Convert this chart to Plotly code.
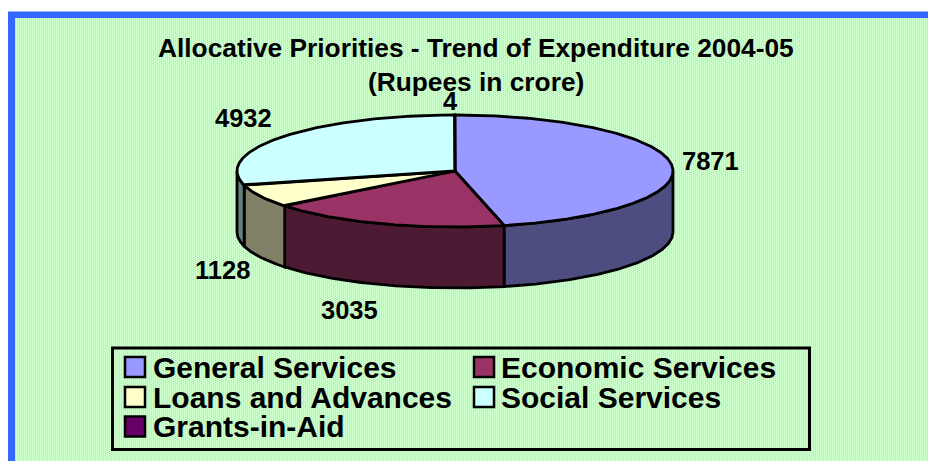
import base64
import struct
import zlib

import numpy as np
import plotly.graph_objects as go

categories = ["General Services", "Economic Services", "Loans and Advances", "Social Services", "Grants-in-Aid"]
values = [7871, 3035, 1128, 4932, 4]
top_colors = ["#9999FF", "#993366", "#FFFFCC", "#CCFFFF", "#660066"]
side_colors = ["#4D4D80", "#4D1A33", "#808066", "#668080", "#330033"]
label_texts = ["7871", "3035", "1128", "4932", "4"]
title_lines = ["Allocative Priorities - Trend of Expenditure 2004-05", "(Rupees in crore)"]

W, H = 928, 461
CX, CY, RX, RY, DEPTH = 455, 171, 218, 56, 61
OUTLINE = dict(color="#000000", width=2.8)
FONT = "Liberation Sans"


def texture_png(width, height):
    """Dithered green paper texture, as a PNG data URI."""
    img = np.empty((height, width, 3), dtype=np.uint8)
    img[:] = (204, 255, 204)
    img[::2, ::4] = (168, 224, 210)
    img[1::2, 2::4] = (168, 224, 210)
    raw = b"".join(b"\x00" + row.tobytes() for row in img)

    def chunk(tag, data):
        return struct.pack(">I", len(data)) + tag + data + struct.pack(">I", zlib.crc32(tag + data))

    png = (b"\x89PNG\r\n\x1a\n" + chunk(b"IHDR", struct.pack(">IIBBBBB", width, height, 8, 2, 0, 0, 0))
           + chunk(b"IDAT", zlib.compress(raw)) + chunk(b"IEND", b""))
    return "data:image/png;base64," + base64.b64encode(png).decode()


def arc(start, end, dy=0.0):
    t = np.radians(np.linspace(start, end, max(int(abs(end - start) * 2), 2)))
    return CX + RX * np.sin(t), CY + dy - RY * np.cos(t)


def text(x, y, s, size, anchor="center"):
    fig.add_annotation(x=x, y=y, text=s, showarrow=False, xanchor=anchor, yanchor="middle",
                       font=dict(family=FONT, size=size, color="#000000", weight="bold"))


fig = go.Figure()
shares = np.array(values, dtype=float) / sum(values) * 360
ends = np.cumsum(shares)
starts = ends - shares

# Rim of the disc: only the front half of each slice can be seen
for s, e, c in zip(starts, ends, side_colors):
    a, b = max(s, 90), min(e, 270)
    if b <= a:
        continue
    x1, y1 = arc(a, b)
    x2, y2 = arc(b, a, DEPTH)
    fig.add_trace(go.Scatter(
        x=np.r_[x1, x2, x1[0]], y=np.r_[y1, y2, y1[0]], mode="lines", fill="toself",
        fillcolor=c, line=OUTLINE, showlegend=False, hoverinfo="skip"))

# Top face
for s, e, c in zip(starts, ends, top_colors):
    x1, y1 = arc(s, e)
    fig.add_trace(go.Scatter(
        x=np.r_[CX, x1, CX], y=np.r_[CY, y1, CY], mode="lines", fill="toself",
        fillcolor=c, line=OUTLINE, showlegend=False, hoverinfo="skip"))

label_pos = [(710, 160.5), (349.5, 310), (222, 270), (243, 117.5), (450, 100.5)]
for t, (x, y) in zip(label_texts, label_pos):
    text(x, y, t, 25.5)

text(476, 47.5, title_lines[0], 26.3)
text(476, 81.5, title_lines[1], 26.3)

# Legend box: two columns, filled row by row
legend_cols = [(125, 150.5), (474, 498.5)]
legend_rows = [367, 397, 426.5]
fig.add_shape(type="rect", x0=112.5, x1=809.5, y0=348, y1=449.5, line=dict(color="#000000", width=3),
              fillcolor="rgba(0,0,0,0)")
for i, (name, c) in enumerate(zip(categories, top_colors)):
    swatch_x, text_x = legend_cols[i % 2]
    y = legend_rows[i // 2]
    fig.add_shape(type="rect", x0=swatch_x, x1=swatch_x + 20, y0=y - 10, y1=y + 10,
                  line=dict(color="#000000", width=2.5), fillcolor=c)
    text(text_x, y, name, 30, "left")

# Blue frame (open to the right and bottom edges) with the textured paper inside it
fig.add_shape(type="rect", x0=8, x1=W, y0=11.5, y1=H, line=dict(width=0), fillcolor="#3366FF", layer="below")
fig.add_layout_image(source=texture_png(W - 15, H - 18), xref="x", yref="y", x=15, y=18,
                     sizex=W - 15, sizey=H - 18, sizing="stretch", xanchor="left", yanchor="top",
                     layer="below")

fig.update_layout(
    width=W, height=H, margin=dict(l=0, r=0, t=0, b=0), showlegend=False,
    paper_bgcolor="#FFFFFF", plot_bgcolor="#FFFFFF",
    font=dict(family=FONT, color="#000000"),
    xaxis=dict(range=[0, W], visible=False, fixedrange=True),
    yaxis=dict(range=[H, 0], visible=False, fixedrange=True),
)
fig.write_html("out.html", config=dict(displayModeBar=False),
               post_script="document.body.style.margin='0';document.documentElement.style.overflow='hidden';")
